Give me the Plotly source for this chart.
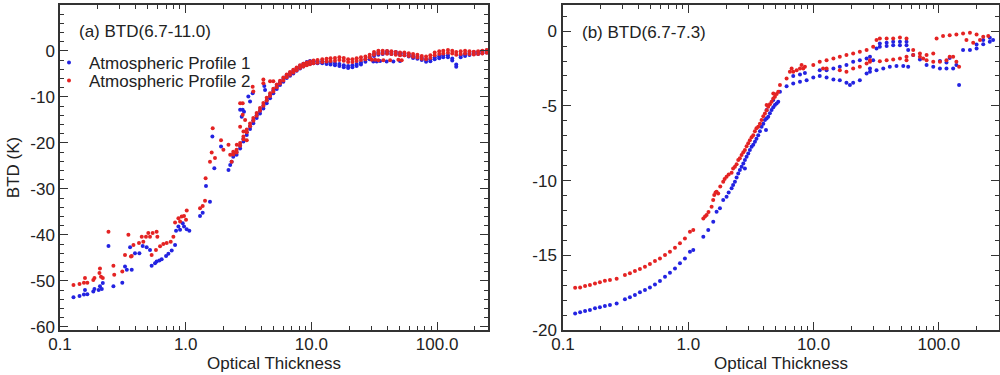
import plotly.graph_objects as go

BLUE = "rgb(35,35,225)"
RED = "rgb(228,35,35)"
FONT = "Liberation Sans, Arial, Helvetica, sans-serif"
TXT = "#222222"

# ---------------- Panel (a): BTD(6.7-11.0) ----------------
# scattered points, Atmospheric Profile 1 (blue)
a_p1_sc_x = [0.128, 0.143, 0.155, 0.158, 0.165, 0.184, 0.188, 0.203, 0.208, 0.215, 0.219, 0.243, 0.266, 0.313,
             0.329, 0.340, 0.361, 0.372, 0.395, 0.428, 0.455, 0.489, 0.520, 0.536, 0.570, 0.587, 0.617, 0.644,
             0.698, 0.728, 0.774, 0.823, 0.838, 0.875, 0.902, 0.947, 0.970, 1.019, 1.069, 1.30, 1.365, 1.45,
             1.56, 1.63, 1.69, 1.91, 2.19, 2.26, 2.32, 2.71, 2.79, 2.84, 2.91, 3.15, 3.25, 3.41, 4.22, 4.28]
a_p1_sc_y = [-53.6, -53.3, -53.0, -52.0, -52.9, -52.3, -51.8, -52.0, -51.2, -51.8, -50.5, -42.4, -51.2, -50.4,
             -46.9, -47.6, -42.7, -47.6, -44.0, -44.0, -42.4, -42.7, -43.3, -46.7, -46.2, -45.8, -45.6, -45.3,
             -44.6, -44.1, -43.4, -42.2, -39.1, -38.2, -38.9, -37.5, -38.2, -38.8, -39.1, -35.9, -35.2, -29.4,
             -32.8, -18.6, -25.5, -20.8, -25.9, -24.8, -24.1, -12.8, -14.3, -12.8, -13.2, -9.9, -11.0, -9.2, -7.6, -8.5]
# scattered points, Atmospheric Profile 2 (red)
a_p2_sc_x = [0.128, 0.143, 0.155, 0.158, 0.165, 0.184, 0.188, 0.206, 0.208, 0.212, 0.219, 0.243, 0.266, 0.270,
             0.313, 0.329, 0.350, 0.367, 0.372, 0.384, 0.425, 0.447, 0.460, 0.483, 0.504, 0.520, 0.536, 0.546,
             0.580, 0.587, 0.595, 0.625, 0.664, 0.706, 0.760, 0.798, 0.823, 0.875, 0.902, 0.929, 0.970, 1.006,
             1.019, 1.30, 1.365, 1.425, 1.44, 1.56, 1.61, 1.64, 1.71, 1.91, 1.995, 2.19, 2.26, 2.32, 2.55, 2.71,
             2.84, 2.84, 2.97, 2.71, 2.88, 3.06, 3.41, 3.45, 4.15, 4.15, 4.69, 4.98]
a_p2_sc_y = [-50.9, -50.7, -50.4, -49.4, -50.4, -49.8, -49.4, -48.3, -47.3, -49.1, -49.4, -39.3, -46.7, -48.7,
             -48.0, -44.4, -40.0, -44.7, -44.6, -42.2, -41.8, -40.4, -41.5, -40.4, -39.6, -40.4, -44.4, -39.6,
             -43.3, -39.3, -40.4, -42.5, -42.0, -41.8, -41.5, -40.4, -37.3, -36.4, -37.1, -36.0, -35.9, -36.7,
             -34.7, -34.2, -33.7, -32.6, -27.7, -24.1, -22.1, -16.8, -23.3, -19.4, -21.5, -20.4, -22.6, -24.1,
             -20.4, -11.4, -11.4, -13.9, -15.0, -16.5, -17.5, -19.4, -7.8, -8.8, -6.2, -7.0, -6.6, -6.6]

# dense band, steep part
a_steep_x = [2.39, 2.54, 2.71, 2.88, 3.06, 3.25, 3.45, 3.67, 3.90, 4.15, 4.41, 4.69, 4.98, 5.30, 5.63, 5.98,
             6.36, 6.76, 7.18, 7.63, 8.12, 8.63, 9.18, 9.75]
a_p1_steep_lo = [-23.0, -22.6, -21.2, -19.7, -18.3, -17.0, -15.7, -14.6, -13.6, -12.5, -11.4, -10.3, -9.2, -8.3,
                 -7.4, -6.7, -5.9, -5.4, -4.9, -4.3, -3.8, -3.4, -3.0, -2.8]
a_p1_steep_hi = [-22.4, -22.0, -20.6, -19.1, -17.7, -16.4, -15.1, -14.0, -13.0, -11.9, -10.8, -9.7, -8.6, -7.7,
                 -6.8, -6.1, -5.3, -4.8, -4.3, -3.7, -3.2, -2.8, -2.4, -2.2]
a_p2_steep_hi = [-21.9, -21.5, -20.0, -18.6, -17.1, -15.8, -14.6, -13.5, -12.4, -11.3, -10.2, -9.2, -8.2, -7.3,
                 -6.5, -5.8, -5.1, -4.6, -4.1, -3.6, -3.1, -2.8, -2.5, -2.3]
a_p2_steep_lo = [-22.5, -22.1, -20.6, -19.2, -17.7, -16.4, -15.2, -14.1, -13.0, -11.9, -10.8, -9.8, -8.8, -7.9,
                 -7.1, -6.4, -5.7, -5.2, -4.7, -4.2, -3.7, -3.4, -3.1, -2.9]

# dense band, flat part
a_flat_x = [10.4, 11.2, 12.2, 13.2, 14.2, 15.4, 16.7, 18.1, 19.6, 21.2, 22.9, 24.8, 26.9, 29.1, 31.5, 34.1,
            36.9, 40.0, 43.3, 46.9, 50.7, 54.9, 59.5, 64.4, 69.7, 75.5, 81.7, 88.4, 95.7, 104, 112, 122, 132,
            142, 154, 167, 181, 196, 212, 229, 248]
a_p1_flat_lo = [-2.68, -2.68, -2.68, -2.83, -2.97, -3.12, -3.26, -3.55, -3.70, -3.55, -3.26, -2.97, -2.32, -1.81,
                -1.09, -0.80, -0.65, -0.51, -0.65, -0.65, -0.87, -0.94, -1.23, -1.52, -1.67, -1.96, -2.32, -2.25,
                -1.81, -1.59, -1.38, -1.38, -2.10, -3.41, -1.38, -1.09, -0.87, -0.65, -0.65, -0.51, -0.36]
a_p1_flat_hi = [-2.23, -2.23, -2.23, -2.38, -2.52, -2.67, -2.81, -3.10, -3.25, -3.10, -2.81, -2.52, -1.87, -1.36,
                -0.64, -0.35, -0.20, -0.06, -0.20, -0.20, -0.42, -0.49, -0.78, -1.07, -1.22, -1.51, -1.87, -1.80,
                -1.36, -1.14, -0.93, -0.93, -1.65, -2.96, -0.93, -0.64, -0.42, -0.20, -0.20, -0.06, 0.09]
a_p2_flat_hi = [-2.10, -1.96, -1.81, -1.67, -1.59, -1.52, -1.38, -1.52, -1.81, -1.81, -1.59, -1.38, -1.23, -0.80,
                -0.22, 0.07, 0.07, 0.00, -0.07, -0.22, -0.36, -0.36, -0.51, -0.65, -0.80, -1.09, -1.23, -0.94,
                -0.36, -0.07, 0.07, 0.22, 0.07, -0.22, -0.07, 0.07, -0.07, -0.15, -0.07, 0.07, 0.22]
a_p2_flat_lo = [-2.70, -2.56, -2.41, -2.27, -2.19, -2.12, -1.98, -2.12, -2.41, -2.41, -2.19, -1.98, -1.83, -1.40,
                -0.82, -0.53, -0.53, -0.60, -0.67, -0.82, -0.96, -0.96, -1.11, -1.25, -1.40, -1.69, -1.83, -1.54,
                -0.96, -0.67, -0.53, -0.38, -0.53, -0.82, -0.67, -0.53, -0.67, -0.75, -0.67, -0.53, -0.38]

# dotted rows near 30-55
a_p1_row_x = [31.1, 33.1, 35.2, 39.7, 44.9, 50.7]
a_p1_row_y = [-2.3, -2.3, -2.2, -2.3, -2.3, -2.2]
a_p2_row_x = [30.2, 32.1, 34.1, 37.4, 42.3, 49.2, 52.3]
a_p2_row_y = [-1.9, -1.9, -2.0, -2.0, -2.0, -1.9, -2.0]

# ---------------- Panel (b): BTD(6.7-7.3) ----------------
b_p1_low_x = [0.125, 0.137, 0.150, 0.164, 0.180, 0.197, 0.216, 0.237, 0.268, 0.312, 0.342, 0.375, 0.411, 0.451,
              0.494, 0.542, 0.594, 0.652, 0.714, 0.783, 0.858, 0.940, 1.031, 1.096, 1.318, 1.443, 1.582, 1.682,
              1.789, 1.900, 2.021, 2.217, 2.356, 2.505, 2.663, 2.831, 3.010, 3.200, 3.403, 3.617, 3.846, 4.089,
              4.347, 4.621, 4.913, 5.224,
              2.10, 2.28, 2.43, 2.58, 2.75, 2.92, 3.10, 3.30, 3.50, 3.73, 3.97, 4.22, 4.48, 4.77, 5.07, 4.17, 2.83]
b_p1_low_y = [-18.89, -18.82, -18.73, -18.66, -18.55, -18.48, -18.39, -18.33, -18.22, -17.95, -17.81, -17.66,
              -17.48, -17.32, -17.15, -16.95, -16.72, -16.43, -16.17, -15.88, -15.54, -15.21, -14.76, -14.65,
              -13.76, -13.31, -12.75, -12.08, -11.86, -11.30, -11.08, -10.52, -10.08, -9.52, -9.07, -8.63, -8.18,
              -7.74, -7.40, -6.96, -6.40, -5.95, -5.73, -5.28, -4.95, -4.73,
              -10.8, -10.3, -9.8, -9.3, -8.85, -8.4, -7.95, -7.6, -7.2, -6.7, -6.2, -5.85, -5.5, -5.1, -4.85, -6.62, -9.2]
b_p2_low_x = [0.125, 0.137, 0.150, 0.164, 0.180, 0.197, 0.216, 0.237, 0.268, 0.312, 0.342, 0.375, 0.411, 0.451,
              0.494, 0.542, 0.594, 0.652, 0.714, 0.783, 0.858, 0.940, 1.031, 1.096, 1.318, 1.400, 1.535, 1.611,
              1.682, 1.733, 1.900, 2.021, 2.217, 2.356, 2.505, 2.663, 2.831, 3.010, 3.301, 3.617, 3.846, 4.089,
              4.347, 4.621, 4.913, 5.224,
              1.36, 1.45, 1.58, 1.65, 1.80, 1.95, 2.10, 2.28, 2.43, 2.58, 2.75, 2.92, 3.10, 3.20, 3.40, 3.50,
              3.73, 3.97, 4.22, 4.48, 4.77, 5.07]
b_p2_low_y = [-17.17, -17.15, -17.06, -16.99, -16.88, -16.81, -16.70, -16.66, -16.57, -16.32, -16.21, -16.05,
              -15.92, -15.76, -15.59, -15.38, -15.21, -14.98, -14.76, -14.49, -14.20, -13.87, -13.42, -13.31,
              -12.53, -12.31, -11.75, -10.97, -10.75, -10.86, -10.08, -9.74, -9.48, -9.07, -8.63, -8.29, -7.96,
              -7.51, -6.96, -6.40, -5.95, -5.51, -5.06, -4.73, -4.39, -4.06,
              -12.4, -12.1, -11.3, -10.8, -10.4, -9.9, -9.6, -9.2, -8.9, -8.5, -8.1, -7.7, -7.3, -7.1, -6.7, -6.5,
              -6.2, -5.7, -5.3, -4.9, -4.5, -4.2]

b_p1_up_x = [4.22, 4.77, 5.39, 6.09, 6.88, 7.79, 8.80, 9.95, 11.2, 12.7, 14.4, 16.2, 18.3, 19.5, 20.7, 23.4, 26.5,
             28.2, 29.9, 31.8, 33.8, 38.3, 43.2, 48.9, 55.2, 56.9, 62.4, 70.6, 79.8, 90.2, 102, 115, 130, 138, 145,
             156, 177, 200, 226, 255, 271,
             11.2, 12.7, 14.4, 16.2, 18.3, 20.7, 23.4, 26.5, 28.2, 6.88, 7.79, 8.53,
             28.2, 31.8, 36.0, 40.6, 45.9, 52.0, 56.9,
             33.8, 38.3, 43.2, 48.9, 55.2, 102, 115, 122, 200, 226, 255]
b_p1_up_y = [-5.28, -4.61, -4.06, -3.68, -3.50, -3.39, -3.28, -3.10, -3.01, -3.10, -3.23, -3.28, -3.46, -3.61,
             -3.46, -3.28, -2.83, -2.50, -1.94, -1.16, -0.82, -0.78, -0.71, -0.71, -0.71, -1.27, -1.60, -1.89,
             -2.27, -2.39, -2.50, -2.50, -2.50, -2.27, -3.61, -1.27, -1.27, -1.16, -0.87, -0.71, -0.60,
             -2.61, -2.61, -2.50, -2.39, -2.27, -2.05, -1.94, -1.83, -1.72, -3.00, -2.90, -2.80,
             -2.72, -2.61, -2.50, -2.39, -2.34, -2.34, -2.39,
             -1.05, -1.00, -0.95, -0.95, -0.95, -2.00, -2.10, -1.80, -0.90, -0.60, -0.45]
b_p2_up_x = [4.22, 4.77, 5.39, 6.09, 6.88, 7.79, 8.53, 9.95, 11.2, 12.7, 14.4, 16.2, 18.3, 20.7, 23.4, 26.5, 29.9,
             31.8, 33.8, 38.3, 43.2, 48.9, 55.2, 62.4, 70.6, 79.8, 90.2, 95.9, 108, 122, 138, 156, 177, 200, 226, 248,
             6.47, 6.68, 7.32, 8.02, 8.27, 11.9, 12.7, 16.2, 18.3, 20.7, 23.4, 26.5, 28.2, 55.2, 62.4, 70.6, 75.0,
             79.8, 90.2, 102, 115, 122, 130, 138, 145, 166, 188, 213,
             28.2, 33.8, 38.3, 43.2, 48.9, 55.2]
b_p2_up_y = [-4.95, -4.17, -3.61, -3.17, -2.72, -2.50, -2.39, -2.27, -2.05, -1.94, -1.83, -1.72, -1.60, -1.49,
             -1.38, -1.27, -1.05, -0.60, -0.49, -0.49, -0.49, -0.42, -0.49, -1.27, -1.49, -1.60, -1.49, -0.49,
             -0.33, -0.27, -0.22, -0.16, -0.11, -0.22, -0.38, -0.33,
             -2.72, -2.50, -2.61, -2.27, -2.50, -2.50, -2.50, -2.61, -2.72, -2.50, -2.39, -2.16, -1.94, -1.72,
             -1.60, -1.72, -1.83, -1.94, -2.05, -2.05, -1.94, -1.72, -1.72, -2.05, -2.39, -0.60, -0.78, -0.60,
             -2.05, -2.01, -1.94, -1.89, -1.83, -1.94]

# axis tick labels
x_tickvals = [0.1, 1, 10, 100]
x_ticktext = ["0.1", "1.0", "10.0", "100.0"]
x_minor = [0.2, 0.3, 0.4, 0.5, 0.6, 0.7, 0.8, 0.9, 2, 3, 4, 5, 6, 7, 8, 9, 20, 30, 40, 50, 60, 70, 80, 90, 200]
a_yticks = [-60, -50, -40, -30, -20, -10, 0, 10]
a_yticktext = ["-60", "-50", "-40", "-30", "-20", "-10", "0", "10"]
b_yticks = [-20, -15, -10, -5, 0]
b_yticktext = ["-20", "-15", "-10", "-5", "0"]

# ---- assemble per-series arrays for each panel ----
a_p1_x = a_p1_sc_x + a_steep_x + a_steep_x + a_flat_x + a_flat_x + a_p1_row_x
a_p1_y = a_p1_sc_y + a_p1_steep_lo + a_p1_steep_hi + a_p1_flat_lo + a_p1_flat_hi + a_p1_row_y
a_p2_x = a_p2_sc_x + a_steep_x + a_steep_x + a_flat_x + a_flat_x + a_p2_row_x
a_p2_y = a_p2_sc_y + a_p2_steep_hi + a_p2_steep_lo + a_p2_flat_hi + a_p2_flat_lo + a_p2_row_y
b_p1_x = b_p1_low_x + b_p1_up_x
b_p1_y = b_p1_low_y + b_p1_up_y
b_p2_x = b_p2_low_x + b_p2_up_x
b_p2_y = b_p2_low_y + b_p2_up_y

mk1 = dict(color=BLUE, size=4, symbol="circle", line=dict(width=0))
mk2 = dict(color=RED, size=4, symbol="circle", line=dict(width=0))

fig = go.Figure()
fig.add_trace(go.Scatter(x=a_p1_x, y=a_p1_y, mode="markers", marker=mk1, name="Atmospheric Profile 1",
                         legendgroup="p1", legend="legend", xaxis="x", yaxis="y"))
fig.add_trace(go.Scatter(x=a_p2_x, y=a_p2_y, mode="markers", marker=mk2, name="Atmospheric Profile 2",
                         legendgroup="p2", legend="legend2", xaxis="x", yaxis="y"))
fig.add_trace(go.Scatter(x=b_p1_x, y=b_p1_y, mode="markers", marker=mk1, name="Atmospheric Profile 1",
                         legendgroup="p1", showlegend=False, xaxis="x2", yaxis="y2"))
fig.add_trace(go.Scatter(x=b_p2_x, y=b_p2_y, mode="markers", marker=mk2, name="Atmospheric Profile 2",
                         legendgroup="p2", showlegend=False, xaxis="x2", yaxis="y2"))

common_axis = dict(showline=True, linecolor="#333333", linewidth=1.5, mirror="ticks", ticks="inside",
                   tickcolor="#333333", tickwidth=1.2, ticklen=8, showgrid=False, zeroline=False,
                   automargin=False, tickfont=dict(size=17, color=TXT, family=FONT))
xcommon = dict(common_axis, type="log", tickvals=x_tickvals, ticktext=x_ticktext,
               minor=dict(tickvals=x_minor, ticks="inside", ticklen=4, tickcolor="#333333", tickwidth=1.2),
               ticklabelstandoff=-2,
               title=dict(text="Optical Thickness", font=dict(size=17, color=TXT, family=FONT), standoff=2))

legend_common = dict(xanchor="left", yanchor="top", bgcolor="rgba(0,0,0,0)",
                     font=dict(size=17, color=TXT, family=FONT), itemwidth=30, tracegroupgap=0)

fig.update_layout(
    width=1000, height=375,
    margin=dict(l=0, r=0, t=0, b=0),
    paper_bgcolor="white", plot_bgcolor="white",
    font=dict(family=FONT, size=17, color=TXT),
    xaxis=dict(xcommon, domain=[0.060, 0.488], range=[-1, 2.405], anchor="y"),
    yaxis=dict(common_axis, domain=[0.12, 0.9867], range=[-60.7, 10], tickvals=a_yticks,
               ticktext=a_yticktext, anchor="x",
               minor=dict(dtick=2, ticks="inside", ticklen=4, tickcolor="#333333", tickwidth=1.2),
               ticklabelstandoff=0,
               title=dict(text="BTD (K)", font=dict(size=17, color=TXT, family=FONT), standoff=6)),
    xaxis2=dict(xcommon, domain=[0.563, 0.999], range=[-1, 2.48], anchor="y2"),
    yaxis2=dict(common_axis, domain=[0.12, 0.9867], range=[-20, 1.75], tickvals=b_yticks,
                ticktext=b_yticktext, anchor="x2",
                minor=dict(dtick=1, ticks="inside", ticklen=4, tickcolor="#333333", tickwidth=1.2),
                ticklabelstandoff=1),
    legend=dict(legend_common, x=0.049, y=1 - 45 / 375),
    legend2=dict(legend_common, x=0.049, y=1 - 63 / 375),
    annotations=[
        dict(text="(a) BTD(6.7-11.0)", xref="paper", yref="paper", x=0.077, y=1 - 31 / 375,
             xanchor="left", yanchor="middle", showarrow=False, font=dict(size=17, color=TXT, family=FONT)),
        dict(text="(b) BTD(6.7-7.3)", xref="paper", yref="paper", x=0.580, y=1 - 32 / 375,
             xanchor="left", yanchor="middle", showarrow=False, font=dict(size=17, color=TXT, family=FONT)),
    ],
)

fig.write_html("out.html", config={"displayModeBar": False},
               post_script="document.body.style.margin='0px';")
